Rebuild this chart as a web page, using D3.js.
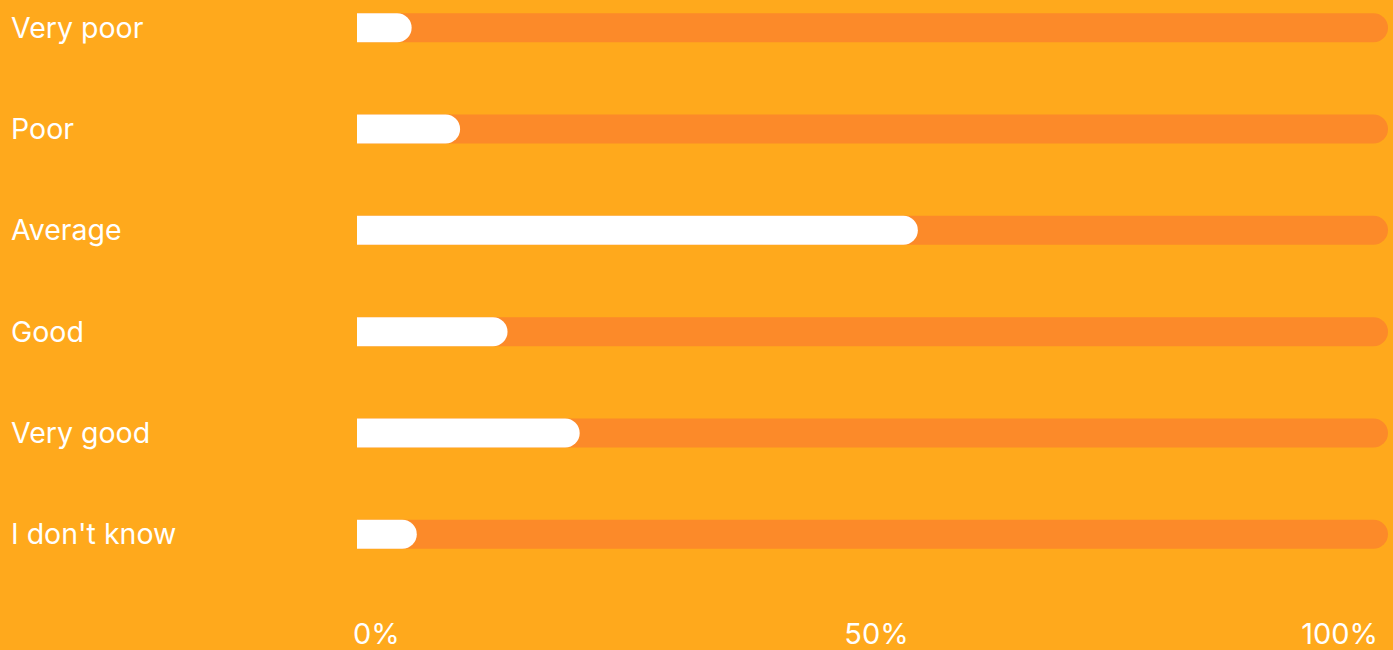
<!DOCTYPE html>
<html>
<head>
<meta charset="utf-8">
<script src="https://cdn.jsdelivr.net/npm/d3@7"></script>
<style>
  body { margin: 0; background: #ffa91c; overflow: hidden; }
  text { font-family: Inter, "Noto Sans", sans-serif; fill: #fff; }
</style>
</head>
<body>
<script>
// survey answers and share (percent)
var categories = ["Very poor", "Poor", "Average", "Good", "Very good", "I don't know"];
var values = [5.3, 10.0, 54.4, 14.6, 21.6, 5.8];
var tickValues = [0, 50, 100];
var tickLabels = ["0%", "50%", "100%"];

var width = 1393;
var height = 650;
var barH = 29;

var svg = d3
  .select("body")
  .append("svg")
  .attr("width", width)
  .attr("height", height);

var xScale = d3.scaleLinear().domain([0, 100]).range([357, 1388]);
var yScale = d3
  .scaleBand()
  .domain(categories)
  .range([-23, 585])
  .paddingInner(0)
  .paddingOuter(0);

// right-rounded bar, square on the left
function barPath(x0, x1, yc, h) {
  var r = h / 2;
  var w = x1 - x0;
  if (w < r) r = w;
  return (
    "M" + x0 + "," + (yc - h / 2) +
    "H" + (x1 - r) +
    "A" + r + "," + h / 2 + " 0 0 1 " + (x1 - r) + "," + (yc + h / 2) +
    "H" + x0 + "Z"
  );
}

var rows = svg
  .selectAll("g.row")
  .data(categories)
  .enter()
  .append("g")
  .attr("class", "row");

rows
  .append("path")
  .attr("fill", "#fc8a29")
  .attr("d", function(d) {
    return barPath(xScale(0), xScale(100), yScale(d) + yScale.bandwidth() / 2, barH);
  });

rows
  .append("path")
  .attr("fill", "#ffffff")
  .attr("d", function(d, i) {
    return barPath(xScale(0), xScale(values[i]), yScale(d) + yScale.bandwidth() / 2, barH);
  });

rows
  .append("text")
  .attr("x", 11)
  .attr("y", function(d) {
    return yScale(d) + yScale.bandwidth() / 2;
  })
  .attr("dy", "0.35em")
  .attr("font-size", 28.5)
  .text(function(d) {
    return d;
  });

// axis labels: first anchored start, middle centered, last anchored end
svg
  .selectAll("text.tick")
  .data(tickValues)
  .enter()
  .append("text")
  .attr("class", "tick")
  .attr("x", function(d, i) {
    if (i == 0) return xScale(d) - 4;
    if (i == tickValues.length - 1) return xScale(d) - 10;
    return xScale(d) + 4;
  })
  .attr("y", 644)
  .attr("font-size", 29)
  .attr("text-anchor", function(d, i) {
    if (i == 0) return "start";
    if (i == tickValues.length - 1) return "end";
    return "middle";
  })
  .text(function(d, i) {
    return tickLabels[i];
  });
</script>
</body>
</html>
